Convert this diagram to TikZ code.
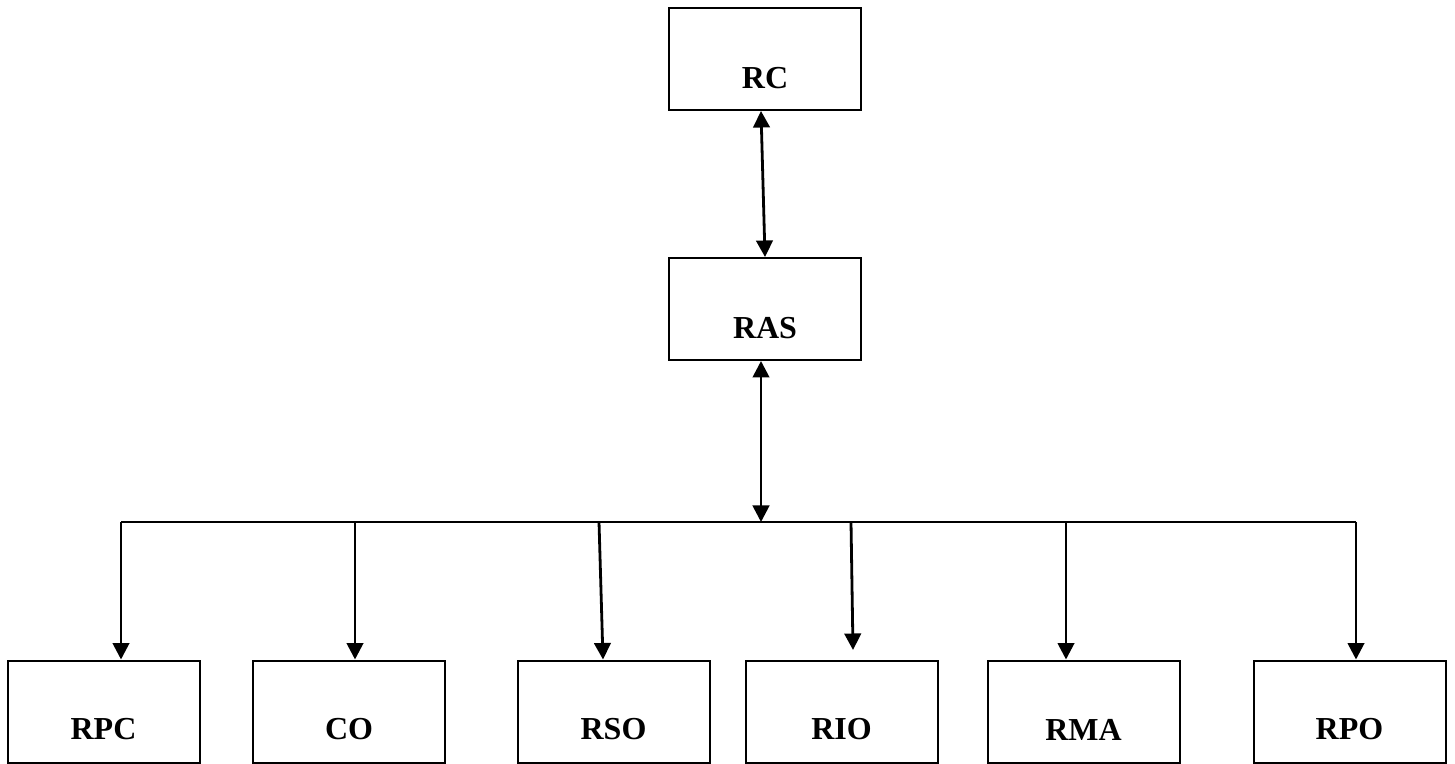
\documentclass[tikz,border=0pt]{standalone}
\usepackage{fontspec}
\setmainfont{Liberation Serif}
\usetikzlibrary{arrows.meta,calc}
\begin{document}
\begin{tikzpicture}[x=1pt,y=1pt,
  box/.style={draw=black,line width=2pt,minimum width=192pt,minimum height=102pt,inner sep=0pt,fill=white},
  lab/.style={font=\fontsize{32}{36}\selectfont\bfseries,inner sep=0pt},
  conn/.style={line width=2.8pt,-{Triangle[length=16.5pt,width=16.5pt]}},
  biconn/.style={line width=2.8pt,{Triangle[length=16.5pt,width=16.5pt]}-{Triangle[length=16.5pt,width=16.5pt]}},
  busline/.style={line width=2.3pt,line join=miter}]
\useasboundingbox (0,0) rectangle (1455,763);
% boxes (y = 763 - pixel y)
\node[box] (rc)  at (765,704) {};
\node[box] (ras) at (765,454) {};
\node[box] (rpc) at (103.5,51.5) {};
\node[box] (co)  at (349,51.5) {};
\node[box] (rso) at (613.5,51.5) {};
\node[box] (rio) at (841.5,51.5) {};
\node[box] (rma) at (1083.5,51.5) {};
\node[box] (rpo) at (1349.5,51.5) {};
% labels
\node[lab] (trc)  at ($(rc.center)+(0,-19)$) {RC};
\node[lab] (tras) at ($(ras.center)+(0,-19)$) {RAS};
\node[lab] (trpc) at ($(rpc.center)+(0,-18)$) {RPC};
\node[lab] (tco)  at ($(co.center)+(0,-18)$) {CO};
\node[lab] (trso) at ($(rso.center)+(0,-18)$) {RSO};
\node[lab] (trio) at ($(rio.center)+(0,-18)$) {RIO};
\node[lab] (trma) at ($(rma.center)+(0,-18)$) {RMA};
\node[lab] (trpo) at ($(rpo.center)+(0,-18)$) {RPO};
% bus coordinates
\coordinate (busL) at (121,241);
\coordinate (busR) at (1356,241);
\coordinate (busC) at (761,241);
\coordinate (b1) at (121,241);
\coordinate (b2) at (355,241);
\coordinate (b3) at (599,241);
\coordinate (b4) at (851,241);
\coordinate (b5) at (1066,241);
\coordinate (b6) at (1356,241);
\coordinate (e4) at (853,113);
% connectors
\draw[biconn] ([xshift=-4pt]rc.south) -- (ras.north);
\draw[biconn] ([xshift=-4pt]ras.south) -- (busC);
\draw[busline] (busL) -- (busR);
\draw[conn] (b1) -- (rpc.north -| b1);
\draw[conn] (b2) -- (co.north -| b2);
\draw[conn] (b3) -- ([xshift=-10.5pt]rso.north);
\draw[conn] (b4) -- (e4);
\draw[conn] (b5) -- (rma.north -| b5);
\draw[conn] (b6) -- (rpo.north -| b6);
\end{tikzpicture}
\end{document}
